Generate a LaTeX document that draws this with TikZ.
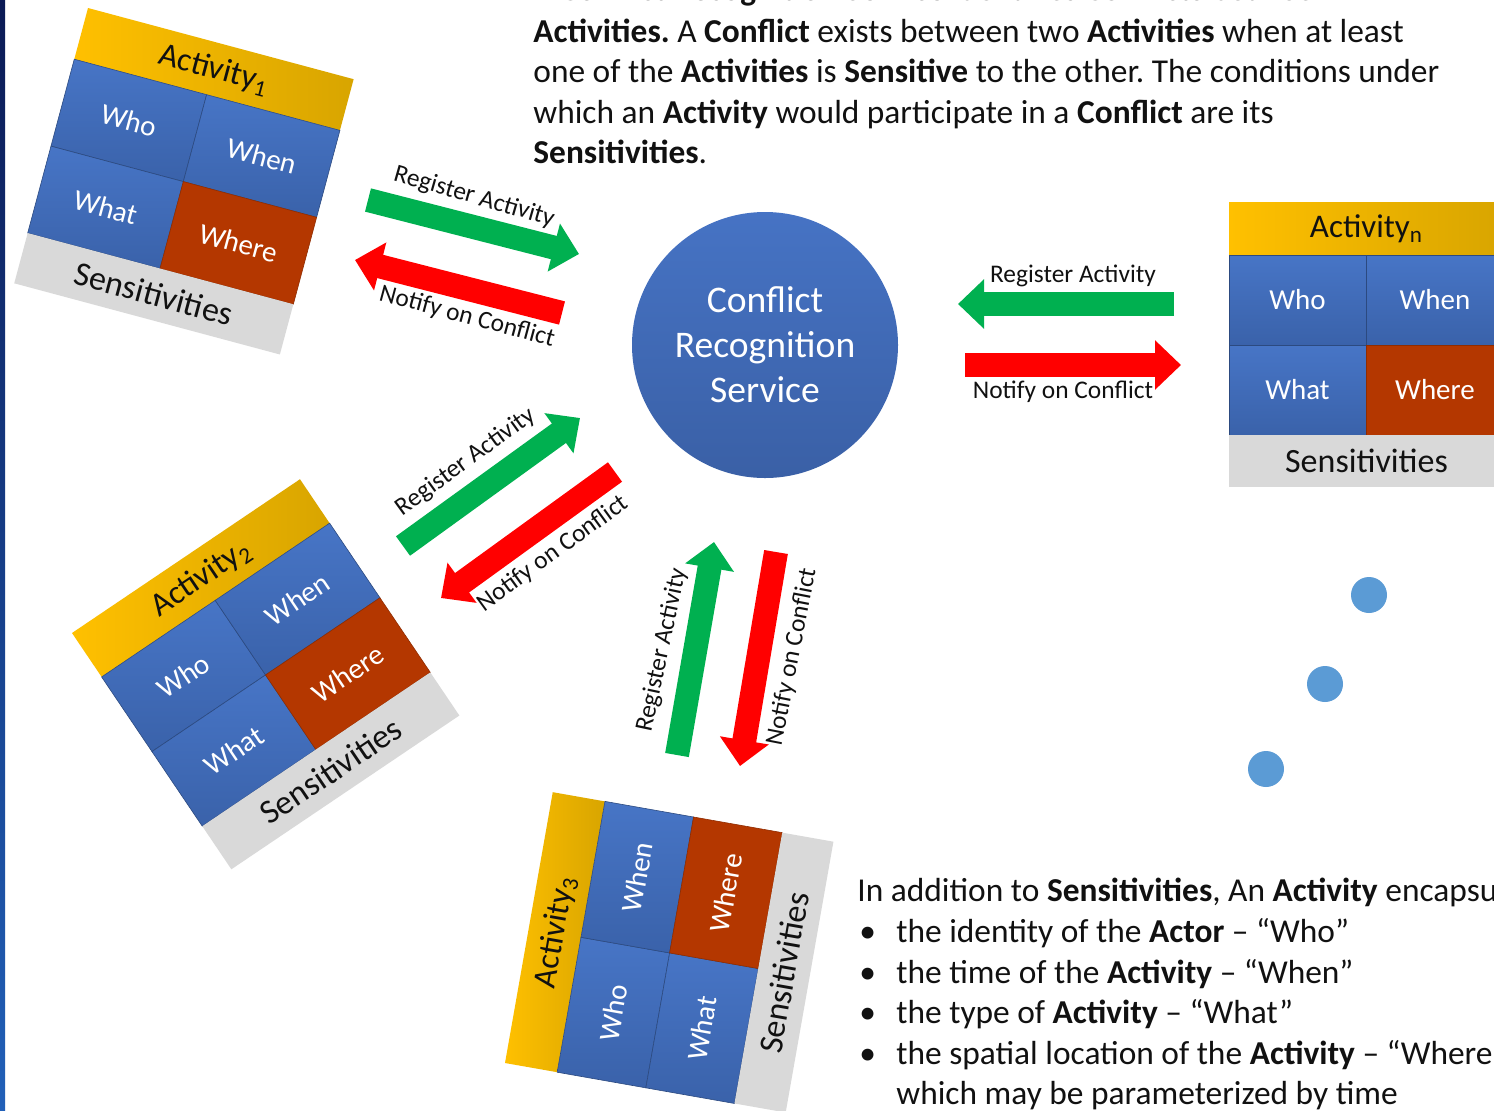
\documentclass[tikz,border=0pt]{standalone}
\usepackage{fontspec}
\setmainfont{Carlito}
\usetikzlibrary{arrows.meta}
\frenchspacing
\definecolor{hdrA}{HTML}{FFC000}
\definecolor{hdrB}{HTML}{D8A500}
\definecolor{cellA}{HTML}{4775C6}
\definecolor{cellB}{HTML}{3A62AA}
\definecolor{whereC}{HTML}{B43700}
\definecolor{sensC}{HTML}{D9D9D9}
\definecolor{circA}{HTML}{4673C4}
\definecolor{circB}{HTML}{3A60A6}
\definecolor{grn}{HTML}{00B050}
\definecolor{rd}{HTML}{FF0000}
\definecolor{dotC}{HTML}{5B9BD5}
\definecolor{edgeA}{HTML}{0B1A55}
\definecolor{edgeB}{HTML}{2160B8}
\definecolor{txt}{HTML}{111111}
\tikzset{
  hdr/.style={left color=hdrA, right color=hdrB},
  cellbox/.style={top color=cellA, bottom color=cellB, draw=cellB!75!black, line width=0.3pt},
  wherebox/.style={fill=whereC, draw=whereC!80!black, line width=0.3pt},
  sensbox/.style={fill=sensC},
  hdrtxt/.style={text=txt, font=\fontsize{16.5}{19}\selectfont, inner sep=0pt},
  celltxt/.style={text=white, font=\fontsize{14.5}{17}\selectfont, inner sep=0pt},
  senstxt/.style={text=txt, font=\fontsize{17}{19}\selectfont, inner sep=0pt},
  barrowG/.style={draw=grn, line width=12pt, -{Triangle[length=13pt,width=24pt]}},
  barrowR/.style={draw=rd, line width=12pt, -{Triangle[length=13pt,width=24pt]}},
  lbl/.style={text=txt, font=\fontsize{12.7}{14}\selectfont, inner sep=0pt},
  para/.style={text=txt, font=\fontsize{16.7}{19}\selectfont, inner sep=0pt, anchor=base west},
  dotn/.style={circle, fill=dotC, minimum size=18pt, inner sep=0pt},
}
\newcommand\actblock[4]{%
\begin{scope}[shift={#2},rotate=#3,transform shape]
\path[hdr] (0,0) rectangle (275,53);
\path[cellbox] (0,53) rectangle (137,143);
\path[cellbox] (137,53) rectangle (275,143);
\path[cellbox] (0,143) rectangle (137,233);
\path[wherebox] (137,143) rectangle (275,233);
\path[sensbox] (0,233) rectangle (275,285);
\node[hdrtxt] (#1h) at (137.5,27) {Activity\textsubscript{#4}};
\node[celltxt] (#1who) at (68.5,98) {Who};
\node[celltxt] (#1when) at (206,98) {When};
\node[celltxt] (#1what) at (68.5,188) {What};
\node[celltxt] (#1where) at (206,188) {Where};
\node[senstxt] (#1s) at (137.5,259) {Sensitivities};
\end{scope}}
\begin{document}
\begin{tikzpicture}[x=0.5pt,y=-0.5pt]
\useasboundingbox (0,0) rectangle (1494,1110);
\clip (0,0) rectangle (1494,1110);
\fill[white] (0,0) rectangle (1494,1110);
\shade[top color=edgeA, bottom color=edgeB] (0,0) rectangle (5,1110);

% top paragraph
\node[para] (p0) at (533,0.5) {A \textbf{Conflict Recognition Service} identifies \textbf{Conflicts} between};
\node[para] (p1) at (533,42) {\textbf{Activities.} A \textbf{Conflict} exists between two \textbf{Activities} when at least};
\node[para] (p2) at (533,82.5) {one of the \textbf{Activities} is \textbf{Sensitive} to the other. The conditions under};
\node[para] (p3) at (533,123) {which an \textbf{Activity} would participate in a \textbf{Conflict} are its};
\node[para] (p4) at (533,163.5) {\textbf{Sensitivities}.};

% activity blocks
\actblock{a1}{(88,8)}{-15}{1}
\actblock{a2}{(72,633)}{34}{2}
\actblock{a3}{(505,1063)}{80}{3}
\actblock{an}{(1229,202)}{0}{n}

% central service
\node[circle, top color=circA, bottom color=circB, minimum size=133pt, inner sep=0pt,
  text=white, align=center, font=\fontsize{18.8}{22.5}\selectfont] (crs) at (765,345)
  {Conflict\\Recognition\\Service};

% arrows: activity 1
\coordinate (g1a) at (368,200); \coordinate (g1b) at (579,254);
\coordinate (r1a) at (562,313); \coordinate (r1b) at (355,260);
\draw[barrowG] (g1a) -- (g1b);
\draw[barrowR] (r1a) -- (r1b);
\node[lbl, rotate=-16] (lg1) at (474,197) {Register Activity};
\node[lbl, rotate=-15] (lr1) at (467,317) {Notify on Conflict};

% arrows: activity n
\coordinate (gna) at (1174,304); \coordinate (gnb) at (958,304);
\coordinate (rna) at (965,365); \coordinate (rnb) at (1181,365);
\draw[barrowG] (gna) -- (gnb);
\draw[barrowR] (rna) -- (rnb);
\node[lbl] (lgn) at (1073,276) {Register Activity};
\node[lbl] (lrn) at (1063,392) {Notify on Conflict};

% arrows: activity 2
\coordinate (g2a) at (403,546); \coordinate (g2b) at (580,418);
\coordinate (r2a) at (615,472); \coordinate (r2b) at (441,598);
\draw[barrowG] (g2a) -- (g2b);
\draw[barrowR] (r2a) -- (r2b);
\node[lbl, rotate=36] (lg2) at (466,462) {Register Activity};
\node[lbl, rotate=36] (lr2) at (553,554) {Notify on Conflict};

% arrows: activity 3
\coordinate (g3a) at (677,755); \coordinate (g3b) at (714,542);
\coordinate (r3a) at (776,552); \coordinate (r3b) at (740,766);
\draw[barrowG] (g3a) -- (g3b);
\draw[barrowR] (r3a) -- (r3b);
\node[lbl, rotate=78] (lg3) at (662,650) {Register Activity};
\node[lbl, rotate=79] (lr3) at (792,657) {Notify on Conflict};

% dots
\node[dotn] (d1) at (1369,595) {};
\node[dotn] (d2) at (1325,684) {};
\node[dotn] (d3) at (1266,769) {};

% bottom text
\node[para] (b0) at (857,901) {In addition to \textbf{Sensitivities}, An \textbf{Activity} encapsulates:};
\node[para] (u1) at (859,942) {•};
\node[para] (u2) at (859,983) {•};
\node[para] (u3) at (859,1023) {•};
\node[para] (u4) at (859,1064) {•};
\node[para] (b1) at (896,942) {the identity of the \textbf{Actor} – “Who”};
\node[para] (b2) at (896,983) {the time of the \textbf{Activity} – “When”};
\node[para] (b3) at (896,1023) {the type of \textbf{Activity} – “What”};
\node[para] (b4) at (896,1064) {the spatial location of the \textbf{Activity} – “Where”,};
\node[para] (b5) at (896,1104) {which may be parameterized by time};
\end{tikzpicture}
\end{document}
